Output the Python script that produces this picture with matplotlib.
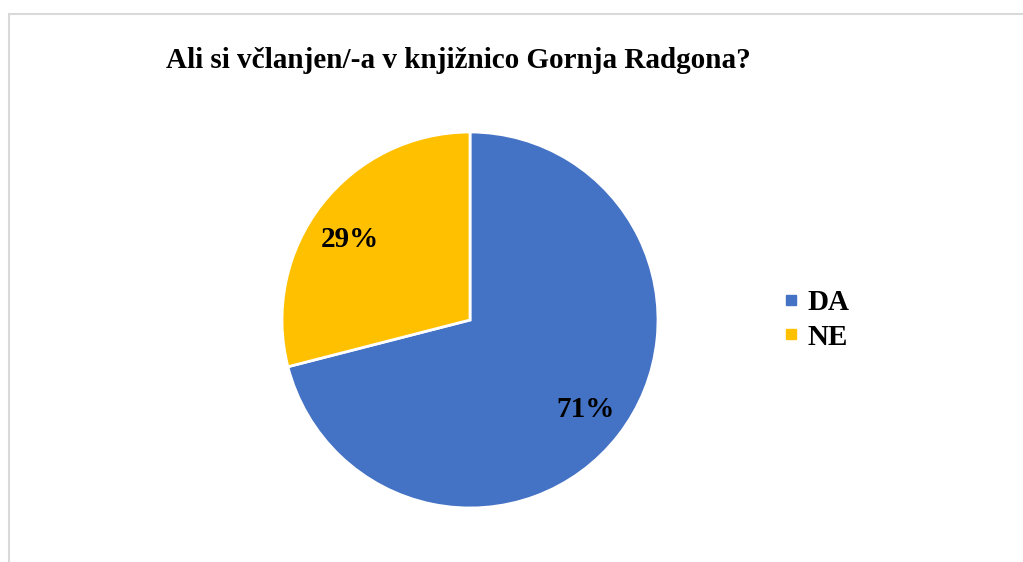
import matplotlib.pyplot as plt
from matplotlib.lines import Line2D
from matplotlib.patches import Rectangle

labels = ['DA', 'NE']
values = [71, 29]
colors = ['#4472C4', '#FFC000']
title = 'Ali si včlanjen/-a v knjižnico Gornja Radgona?'

plt.rcParams['font.family'] = ['Liberation Serif', 'DejaVu Serif']

W, H = 1023, 562
fig = plt.figure(figsize=(W / 100, H / 100), dpi=100)

# light gray frame (only left/top visible in the crop)
fig.patches.append(Rectangle((8.5 / W, -0.1), 1.2, 1 - 13.5 / H + 0.1,
                             transform=fig.transFigure, fill=False,
                             edgecolor='#D9D9D9', linewidth=1.5))

cx, cy, r = 470, 320, 188
ax = fig.add_axes([(cx - r) / W, (H - cy - r) / H, 2 * r / W, 2 * r / H])
wedges, texts, autotexts = ax.pie(
    values, colors=colors, startangle=90, counterclock=False,
    autopct='%1.0f%%', pctdistance=0.78, radius=1,
    wedgeprops=dict(edgecolor='white', linewidth=2),
    textprops=dict(fontsize=21, fontweight='bold', color='black'))
# nudge the small slice label a bit lower, as in the original
autotexts[1].set_position((-0.64, 0.43))
ax.set_xlim(-1, 1)
ax.set_ylim(-1, 1)
ax.set_aspect('equal')

fig.text(458 / W, 1 - 60 / H, title, ha='center', va='center',
         fontsize=21, fontweight='bold')

handles = [Line2D([], [], marker='s', linestyle='none', markersize=7.5,
                  markerfacecolor=c, markeredgecolor=c) for c in colors]
fig.legend(handles, labels, loc='center left',
           bbox_to_anchor=(752 / W, 1 - 320 / H), frameon=False,
           prop=dict(size=21, weight='bold'), handletextpad=0.1,
           handlelength=0.9, labelspacing=0.25)

fig.savefig('out.png', dpi=100)
